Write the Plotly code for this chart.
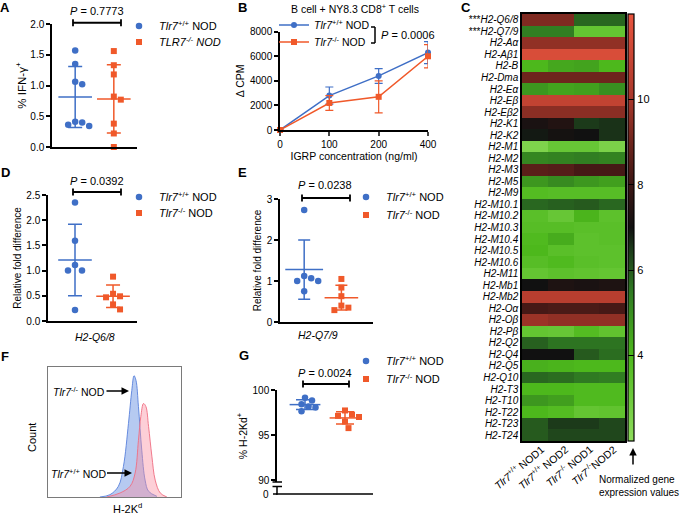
import numpy as np
import plotly.graph_objects as go

W, H = 685, 516
BLUE = "#3F6FC6"
ORANGE = "#F0592A"
FONT = "Liberation Sans, Arial, sans-serif"

WT = "<i>Tlr7</i><sup>+/+</sup> NOD"
KO = "<i>Tlr7</i><sup>-/-</sup> NOD"

# ---- A: % IFN-gamma+ ----
a_wt = [1.57, 1.35, 1.06, 1.02, 0.41, 0.40, 0.36, 0.34]
a_ko = [1.56, 1.33, 1.18, 0.82, 0.77, 0.38, 0.22, 0.00]

# ---- B: proliferation ----
b_conc = ["0", "100", "200", "400"]
b_wt = [0, 2800, 4400, 6300]
b_wt_err = [0, 700, 600, 900]
b_ko = [0, 2200, 2700, 6000]
b_ko_err = [0, 600, 1300, 950]

# ---- C: heatmap ----
genes = ["***H2-Q6/8", "***H2-Q7/9", "H2-Aα", "H2-Aβ1", "H2-B", "H2-Dma", "H2-Eα",
         "H2-Eβ", "H2-Eβ2", "H2-K1", "H2-K2", "H2-M1", "H2-M2", "H2-M3", "H2-M5",
         "H2-M9", "H2-M10.1", "H2-M10.2", "H2-M10.3", "H2-M10.4", "H2-M10.5",
         "H2-M10.6", "H2-M11", "H2-Mb1", "H2-Mb2", "H2-Oα", "H2-Oβ", "H2-Pβ",
         "H2-Q2", "H2-Q4", "H2-Q5", "H2-Q10", "H2-T3", "H2-T10", "H2-T22",
         "H2-T23", "H2-T24"]
samples = ["<i>Tlr7</i><sup>+/+</sup> NOD1", "<i>Tlr7</i><sup>+/+</sup> NOD2",
           "<i>Tlr7</i><sup>-/-</sup> NOD1", "<i>Tlr7</i><sup>-/-</sup>NOD2"]
expr = [
    [9.3, 9.3, 5.8, 5.8],
    [5.4, 5.4, 3.3, 3.3],
    [9.6, 9.6, 9.6, 9.6],
    [11.5, 11.5, 11.5, 11.5],
    [4.0, 4.4, 4.5, 4.0],
    [9.0, 9.0, 9.0, 9.0],
    [4.8, 4.5, 4.6, 5.0],
    [10.8, 10.8, 10.8, 10.8],
    [9.5, 9.5, 9.5, 9.5],
    [7.2, 7.4, 6.5, 6.6],
    [6.9, 7.1, 7.0, 6.6],
    [2.5, 3.2, 3.2, 2.6],
    [5.2, 5.3, 5.4, 5.3],
    [8.6, 8.5, 8.2, 8.2],
    [4.8, 5.1, 4.8, 4.6],
    [3.8, 3.7, 3.7, 3.7],
    [5.8, 5.9, 6.0, 5.8],
    [3.6, 3.2, 4.1, 3.5],
    [3.7, 3.7, 3.6, 3.6],
    [3.9, 4.3, 3.5, 3.6],
    [4.0, 3.6, 3.5, 3.5],
    [3.7, 3.9, 3.6, 3.5],
    [3.3, 3.5, 3.4, 3.3],
    [7.0, 7.3, 7.2, 7.3],
    [10.5, 10.5, 10.5, 10.5],
    [8.2, 8.3, 8.3, 8.2],
    [9.8, 9.6, 9.6, 9.6],
    [3.3, 3.2, 3.8, 3.4],
    [5.9, 5.6, 5.6, 5.6],
    [7.0, 7.0, 6.0, 5.7],
    [4.2, 4.1, 4.0, 4.0],
    [5.8, 5.7, 5.5, 5.4],
    [4.0, 4.0, 3.9, 3.9],
    [4.8, 4.6, 3.9, 3.9],
    [4.0, 3.8, 3.3, 3.4],
    [6.0, 6.5, 6.5, 6.3],
    [6.0, 6.3, 6.3, 6.3],
]

# ---- D / E: relative fold difference ----
d_wt = [2.35, 1.59, 1.11, 1.00, 1.00, 0.22]
d_ko = [0.88, 0.54, 0.49, 0.47, 0.33, 0.23]
e_wt = [2.73, 1.12, 1.07, 1.00, 1.00, 0.75]
e_ko = [1.05, 0.84, 0.63, 0.40, 0.35, 0.29]

# ---- F: flow histogram (H-2Kd, arbitrary units) ----
f_ko_x = [39.0, 46.6, 52.9, 56.7, 60.5, 63.0, 64.7, 66.2, 68.0, 70.5, 73.0, 75.6, 81.9]
f_ko_y = [0, 1.8, 8.2, 23.5, 56.6, 81.9, 93.3, 89.5, 69.6, 36.0, 13.0, 4.4, 0.5]
f_wt_x = [44.1, 54.2, 61.7, 65.5, 68.0, 69.8, 71.8, 73.6, 75.6, 78.1, 80.6, 84.4, 89.4]
f_wt_y = [0, 3.1, 8.2, 18.4, 43.6, 62.0, 71.9, 69.6, 54.3, 31.4, 13.0, 3.1, 0]

# ---- G: % H-2Kd+ (broken axis: 0 // 90-100) ----
g_wt = [99.13, 98.83, 98.43, 98.17, 98.07, 97.63]
g_ko = [97.73, 97.27, 97.13, 97.00, 96.50, 95.77]


def fx(p):
    return p / W


def fy(p):
    return 1 - p / H


def swarm(vals, cat, ppx, ppy, d=7.0):
    # simple beeswarm in pixel space
    cands = [0.0]
    for k in range(1, 10):
        cands += [k * d / 2, -k * d / 2]
    placed = []
    xs = [0.0] * len(vals)
    for i in sorted(range(len(vals)), key=lambda j: -vals[j]):
        y = vals[i] * ppy
        for c in cands:
            if all((c - px) ** 2 + (y - py) ** 2 >= d * d - 1e-6 for px, py in placed):
                break
        placed.append((c, y))
        xs[i] = cat + c / ppx
    return xs


fig = go.Figure()


def dotplot(vals, cat, color, symbol, size, xa, ya, legend, name, ppx, ppy, mw=24, cap=7):
    xs = swarm(vals, cat, ppx, ppy)
    fig.add_trace(go.Scatter(x=xs, y=vals, mode="markers", name=name, legend=legend,
                             marker=dict(color=color, symbol=symbol, size=size),
                             xaxis=xa, yaxis=ya, cliponaxis=False))
    m = float(np.mean(vals))
    s = float(np.std(vals, ddof=1))
    fig.add_trace(go.Scatter(x=[cat], y=[m], mode="markers", showlegend=False,
                             marker=dict(symbol="line-ew", size=mw, color=color,
                                         line=dict(color=color, width=1.5)),
                             error_y=dict(type="data", array=[s], color=color,
                                          thickness=1.5, width=cap),
                             xaxis=xa, yaxis=ya, cliponaxis=False))


# G axis: 9.4 px per unit above the break
g_ppy = 9.4

# pixel scales: (domain px / range span)
dotplot(a_wt, 0, BLUE, "circle", 6.5, "x", "y", "legend", WT, 85 / 2.2, 123 / 2)
dotplot(a_ko, 1, ORANGE, "square", 6, "x", "y", "legend2",
        "<i>TLR7<sup>-/-</sup> NOD</i>", 85 / 2.2, 123 / 2)
dotplot(d_wt, 0, BLUE, "circle", 6.5, "x4", "y4", "legend5", WT, 89 / 2.34, 126 / 2.5)
dotplot(d_ko, 1, ORANGE, "square", 6, "x4", "y4", "legend6", KO, 89 / 2.34, 126 / 2.5)
dotplot(e_wt, 0, BLUE, "circle", 6.5, "x5", "y5", "legend7", WT, 93 / 2.5, 123 / 3, mw=27, cap=6)
dotplot(e_ko, 1, ORANGE, "square", 6, "x5", "y5", "legend8", KO, 93 / 2.5, 123 / 3, mw=24, cap=6)
dotplot(g_wt, 0, BLUE, "circle", 6.5, "x7", "y7", "legend9", WT, 96 / 2.4, g_ppy, mw=22, cap=9)
dotplot(g_ko, 1, ORANGE, "square", 6, "x7", "y7", "legend10", KO, 96 / 2.4, g_ppy, mw=22, cap=9)

# B lines
fig.add_trace(go.Scatter(x=b_conc, y=b_wt, mode="lines+markers", name=WT, legend="legend3",
                         line=dict(color=BLUE, width=1.5),
                         marker=dict(symbol="circle", size=6, color=BLUE),
                         error_y=dict(type="data", array=b_wt_err, color=BLUE, thickness=1.2, width=4),
                         xaxis="x2", yaxis="y2", cliponaxis=False))
fig.add_trace(go.Scatter(x=b_conc, y=b_ko, mode="lines+markers", name=KO, legend="legend4",
                         line=dict(color=ORANGE, width=1.5),
                         marker=dict(symbol="square", size=6, color=ORANGE),
                         error_y=dict(type="data", array=b_ko_err, color=ORANGE, thickness=1.2, width=4),
                         xaxis="x2", yaxis="y2", cliponaxis=False))

# C heatmap
cscale = [
    [0.0, "#8EDC5C"], [0.2, "#4DB81C"], [0.35, "#2F7A22"], [0.45, "#1C3A1A"],
    [0.5, "#111111"], [0.6, "#3C1614"], [0.7, "#6E251D"], [0.8, "#A8372A"],
    [1.0, "#E8543E"],
]
fig.add_trace(go.Heatmap(z=expr, x=list(range(4)), y=list(range(len(genes))),
                         colorscale=cscale, zmin=2, zmax=12, xaxis="x3", yaxis="y3",
                         colorbar=dict(thicknessmode="pixels", thickness=6,
                                       lenmode="pixels", len=427,
                                       x=fx(628), xanchor="left", xpad=0,
                                       y=fy(14), yanchor="top", ypad=0,
                                       tickvals=[4, 6, 8, 10], ticks="inside",
                                       ticklen=6, tickcolor="black", tickwidth=1,
                                       outlinewidth=1.2, outlinecolor="black",
                                       tickfont=dict(size=11, color="black"))))

# F histograms
fig.add_trace(go.Scatter(x=f_ko_x, y=f_ko_y, mode="lines", fill="tozeroy", showlegend=False,
                         line=dict(color="rgba(90,130,220,0.9)", width=1, shape="spline"),
                         fillcolor="rgba(110,150,228,0.5)", xaxis="x6", yaxis="y6"))
fig.add_trace(go.Scatter(x=f_wt_x, y=f_wt_y, mode="lines", fill="tozeroy", showlegend=False,
                         line=dict(color="rgba(240,110,130,0.9)", width=1, shape="spline"),
                         fillcolor="rgba(250,140,160,0.42)", xaxis="x6", yaxis="y6"))


def ytitle(s, size, standoff=3):
    return dict(text=s, font=dict(size=size), standoff=standoff)


def yax(top, bot, rng, **kw):
    d = dict(domain=[fy(bot), fy(top)], range=rng, showline=True, linecolor="black",
             linewidth=1.5, ticks="outside", ticklen=4, tickwidth=1.5, tickcolor="black",
             showgrid=False, zeroline=False, tickfont=dict(size=10, color="black"))
    d.update(kw)
    return d


def xax(left, right, rng, **kw):
    d = dict(domain=[fx(left), fx(right)], range=rng, showline=True, linecolor="black",
             linewidth=1.5, ticks="", showticklabels=False, showgrid=False, zeroline=False)
    d.update(kw)
    return d


shapes = []


def line(x0, y0, x1, y1, w=1.8, color="black"):
    shapes.append(dict(type="line", xref="paper", yref="paper", x0=fx(x0), y0=fy(y0),
                       x1=fx(x1), y1=fy(y1), line=dict(color=color, width=w)))


def bracket(x0, x1, y):
    line(x0, y, x1, y, 2)
    line(x0, y - 3.5, x0, y + 3.5, 1.8)
    line(x1, y - 3.5, x1, y + 3.5, 1.8)


bracket(73, 121, 22.7)
bracket(73, 121, 192)
bracket(302, 350, 198)
bracket(303, 349, 384)
# B bracket
line(375, 27, 375, 43, 1.5)
line(371, 27, 375, 27, 1.5)
line(371, 43, 375, 43, 1.5)
# G broken axis: short segment below the break down to the baseline, with the "0" tick
line(277, 486.5, 277, 494.7, 1.5)
line(273, 494, 277, 494, 1.5)
line(276.3, 494, 373, 494, 1.5)
line(272.5, 482, 282, 482, 1.5)
line(272.5, 486.5, 282, 486.5, 1.5)

ann = []


def text(x, y, s, size=11, **kw):
    d = dict(x=fx(x), y=fy(y), xref="paper", yref="paper", text=s, showarrow=False,
             xanchor="center", yanchor="middle", font=dict(size=size, color="black"))
    d.update(kw)
    ann.append(d)


for lab, x, y in [("A", 5, 7), ("B", 242, 7), ("C", 466, 7), ("D", 5, 173),
                  ("E", 242, 173), ("F", 5, 356), ("G", 244, 355)]:
    text(x, y, "<b>%s</b>" % lab, 13)

text(97, 11, "<i>P</i> = 0.7773")
text(97, 181, "<i>P</i> = 0.0392")
text(325, 185, "<i>P</i> = 0.0238")
text(325, 373, "<i>P</i> = 0.0024")
text(379, 35, "<i>P</i> = 0.0006", xanchor="left")
text(355, 8, "B cell + NY8.3 CD8<sup>+</sup> T cells", 10.5)
text(95, 337, "<i>H2-Q6/8</i>", 10.5)
text(318, 335, "<i>H2-Q7/9</i>", 10.5)
text(32, 437, "Count", 11, textangle=-90)
text(127, 508, "H-2K<sup>d</sup>", 11)
text(597, 486, "Normalized gene<br>expression values", 10, xanchor="left", align="left")
text(271, 494, "0", 10, xanchor="right")

for i, s in enumerate(samples):
    text(549 + i * 24, 439, s, 10.5, textangle=-40, xanchor="right", yanchor="top")

ann.append(dict(x=fx(633), y=fy(448), xref="paper", yref="paper", text="", showarrow=True,
                ax=0, ay=18, arrowhead=2, arrowwidth=1.5, arrowcolor="black"))
ann.append(dict(x=fx(129), y=fy(391), xref="paper", yref="paper", text=KO, showarrow=True,
                ax=-50, ay=0, arrowhead=2, arrowwidth=1.5, arrowcolor="black",
                font=dict(size=10.5, color="black")))
ann.append(dict(x=fx(132), y=fy(473), xref="paper", yref="paper", text=WT, showarrow=True,
                ax=-54, ay=0, arrowhead=2, arrowwidth=1.5, arrowcolor="black",
                font=dict(size=10.5, color="black")))

gene_labels = [("***<i>%s</i>" % g[3:]) if g.startswith("***") else "<i>%s</i>" % g for g in genes]


def leg(x, y, size=11):
    return dict(x=fx(x), y=fy(y), xanchor="left", yanchor="middle", bgcolor="rgba(0,0,0,0)",
                font=dict(size=size, color="black"), borderwidth=0)


fig.update_layout(
    width=W, height=H, margin=dict(l=0, r=0, t=0, b=0, autoexpand=False),
    paper_bgcolor="white", plot_bgcolor="white",
    font=dict(family=FONT, color="black"),
    xaxis=xax(52, 137, [-0.6, 1.6], anchor="y"),
    yaxis=yax(24, 147, [0, 2], anchor="x", dtick=0.5, tickformat=".1f",
              title=ytitle("% IFN-γ<sup>+</sup>", 11.5, 1)),
    xaxis2=xax(280, 428, [0, 3], anchor="y2", type="category", ticks="outside", ticklen=4,
               tickwidth=1.5, showticklabels=True, tickfont=dict(size=10, color="black"),
               title=dict(text="IGRP concentration (ng/ml)", font=dict(size=10.5), standoff=4)),
    yaxis2=yax(31.7, 130, [0, 8000], anchor="x2", dtick=2000,
               title=ytitle("Δ CPM", 10.5)),
    xaxis3=dict(domain=[fx(522), fx(625)], range=[-0.5, 3.5], anchor="y3", showline=True,
                mirror=True, linecolor="black", linewidth=1.5, showticklabels=False,
                ticks="", showgrid=False, zeroline=False),
    yaxis3=dict(domain=[fy(441), fy(14)], range=[len(genes) - 0.5, -0.5], anchor="x3",
                showline=True, mirror=True, linecolor="black", linewidth=1.5,
                tickvals=list(range(len(genes))), ticktext=gene_labels, ticks="",
                tickfont=dict(size=10, color="black"), showgrid=False, zeroline=False),
    xaxis4=xax(48, 137, [-0.71, 1.63], anchor="y4"),
    yaxis4=yax(195, 321, [0, 2.5], anchor="x4", dtick=0.5, tickformat=".1f",
               title=ytitle("Relative fold difference", 10)),
    xaxis5=xax(280, 373, [-0.65, 1.85], anchor="y5"),
    yaxis5=yax(199, 322, [0, 3], anchor="x5", dtick=1,
               title=ytitle("Relative fold difference", 10)),
    xaxis6=dict(domain=[fx(48), fx(181)], range=[0, 100], anchor="y6", showline=True,
                mirror=True, linecolor="#7a7a7a", linewidth=1, showticklabels=False,
                ticks="", showgrid=False, zeroline=False),
    yaxis6=dict(domain=[fy(497), fy(367)], range=[0, 100], anchor="x6", showline=True,
                mirror=True, linecolor="#7a7a7a", linewidth=1, showticklabels=False,
                ticks="", showgrid=False, zeroline=False),
    xaxis7=xax(277, 373, [-0.7, 1.7], anchor="y7", showline=False),
    yaxis7=yax(390, 482, [90 + (482 - 484) / g_ppy, 100], anchor="x7",
               tickvals=[90, 95, 100], title=ytitle("% H-2Kd<sup>+</sup>", 10.5)),
    legend=leg(119, 26),
    legend2=leg(119, 42),
    legend3=leg(274, 25, 10.5),
    legend4=leg(274, 42, 10.5),
    legend5=leg(119, 197),
    legend6=leg(119, 213),
    legend7=leg(346, 197),
    legend8=leg(346, 215),
    legend9=leg(346, 361),
    legend10=leg(346, 379),
    shapes=shapes,
    annotations=ann,
)

# page body has a default 8px margin; drop it so the figure sits at the window's corner
fig.write_html("out.html", config={"displayModeBar": False},
               post_script="document.body.style.margin='0';document.body.style.overflow='hidden';")
